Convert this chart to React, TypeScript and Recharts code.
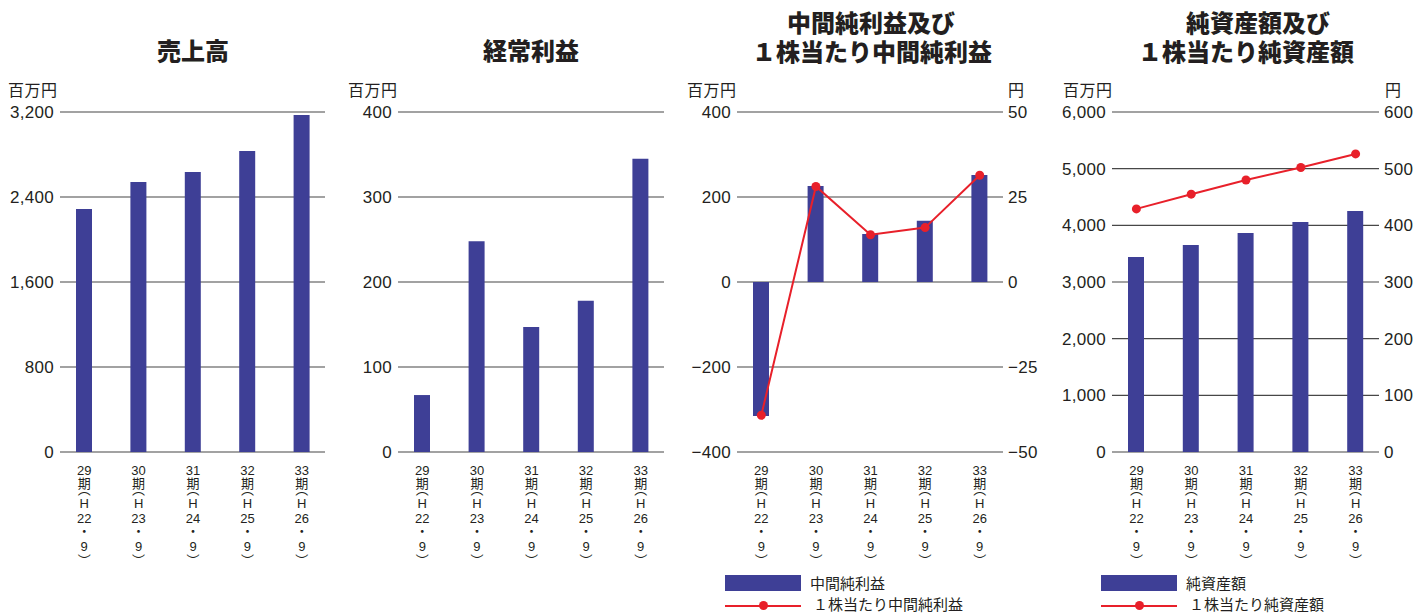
import React from 'react';
import {
  ComposedChart,
  Bar,
  Line,
  XAxis,
  YAxis,
  CartesianGrid,
} from 'recharts';

// 期 and 平成 year for each half-year period (all ending in September)
const periods = ['29', '30', '31', '32', '33'];
const heiseiYears = ['22', '23', '24', '25', '26'];

// 売上高 (百万円)
const sales = [2287, 2541, 2635, 2833, 3172];
// 経常利益 (百万円)
const ordinaryProfit = [67, 248, 147, 178, 345];
// 中間純利益 (百万円) and 1株当たり中間純利益 (円)
const interimNetIncome = [-315, 226, 113, 144, 252];
const interimEps = [-39.2, 28.1, 13.9, 16.0, 31.4];
// 純資産額 (百万円) and 1株当たり純資産額 (円)
const netAssets = [3441, 3653, 3865, 4059, 4253];
const bookValuePerShare = [429, 455, 480, 502, 526];

const salesTicks = [0, 800, 1600, 2400, 3200];
const profitTicks = [0, 100, 200, 300, 400];
const incomeTicks = [-400, -200, 0, 200, 400];
const epsTicks = [-50, -25, 0, 25, 50];
const assetTicks = [0, 1000, 2000, 3000, 4000, 5000, 6000];
const bpsTicks = [0, 100, 200, 300, 400, 500, 600];

const BAR = '#3e3f96';
const RED = '#e8202a';
const INK = '#231f20';
const GRID = '#474747';
const NUM_FONT = '"Liberation Sans", Arial, "Noto Sans CJK JP", sans-serif';
const JP_FONT = '"Noto Sans CJK JP", sans-serif';

const TOP = 112;
const H = 613;
const X_H = H - 452;

const fmt = (v: number) => (v < 0 ? '−' + Math.abs(v).toLocaleString('en-US') : v.toLocaleString('en-US'));

// vertical label: 29 / 期 / ︵ / H / 22 / ・ / 9 / ︶
function XTick(props: any) {
  const { x, y, payload } = props;
  const i = payload.index;
  const rows: [string, number][] = [
    [periods[i], 23],
    ['期', 36],
    ['︵', 42],
    ['H', 56],
    [heiseiYears[i], 71],
    ['・', 84],
    ['9', 99],
    ['︶', 113],
  ];
  return (
    <g>
      {rows.map(([t, dy], k) => (
        <text
          key={k}
          x={x}
          y={y + dy}
          textAnchor="middle"
          fontSize={13}
          fill={INK}
          fontFamily={NUM_FONT}
        >
          {t}
        </text>
      ))}
    </g>
  );
}

const build = (vals: number[], line?: number[]) =>
  periods.map((p, i) => ({ period: p, value: vals[i], line: line ? line[i] : undefined }));

type PanelProps = {
  left: number;
  width: number;
  leftW: number;
  rightW: number;
  values: number[];
  domain: [number, number];
  ticks: number[];
  line?: number[];
  rDomain?: [number, number];
  rTicks?: number[];
};

function Panel(p: PanelProps) {
  const data = build(p.values, p.line);
  return (
    <div style={{ position: 'absolute', left: p.left, top: 0 }}>
      <ComposedChart
        width={p.width}
        height={H}
        data={data}
        margin={{ top: TOP, right: p.line ? 0 : p.rightW, left: 0, bottom: 0 }}
      >
        <CartesianGrid vertical={false} stroke={GRID} strokeWidth={1.1} yAxisId="l" />
        <XAxis
          dataKey="period"
          axisLine={false}
          tickLine={false}
          tickSize={0}
          tickMargin={0}
          height={X_H}
          interval={0}
          padding={{ left: -3, right: -4 }}
          tick={<XTick />}
        />
        <YAxis
          yAxisId="l"
          width={p.leftW}
          domain={p.domain}
          ticks={p.ticks}
          interval={0}
          axisLine={false}
          tickLine={false}
          tickSize={0}
          tickMargin={6}
          tickFormatter={fmt}
          tick={{ fontSize: 17, fill: INK, fontFamily: NUM_FONT, letterSpacing: 0.3 }}
        />
        {p.line && (
          <YAxis
            yAxisId="r"
            orientation="right"
            width={p.rightW}
            domain={p.rDomain}
            ticks={p.rTicks}
            interval={0}
            axisLine={false}
            tickLine={false}
            tickSize={0}
            tickMargin={5}
            tickFormatter={fmt}
            tick={{ fontSize: 17, fill: INK, fontFamily: NUM_FONT, letterSpacing: 0.3, textAnchor: 'start' }}
          />
        )}
        <Bar yAxisId="l" dataKey="value" fill={BAR} barSize={16} isAnimationActive={false} />
        {p.line && (
          <Line
            yAxisId="r"
            type="linear"
            dataKey="line"
            stroke={RED}
            strokeWidth={2}
            dot={{ r: 4.5, fill: RED, stroke: 'none' }}
            activeDot={false}
            isAnimationActive={false}
          />
        )}
      </ComposedChart>
    </div>
  );
}

const txt = (s: string, x: number, y: number, size: number, extra: React.CSSProperties = {}) => (
  <div
    style={{
      position: 'absolute',
      left: x,
      top: y,
      fontSize: size,
      lineHeight: 1,
      whiteSpace: 'nowrap',
      color: INK,
      fontFamily: JP_FONT,
      ...extra,
    }}
  >
    {s}
  </div>
);

const title = (s: string, cx: number, cy: number) => (
  <div
    style={{
      position: 'absolute',
      left: cx - 200,
      width: 400,
      top: cy - 13,
      textAlign: 'center',
      fontSize: 24,
      lineHeight: '26px',
      fontWeight: 900,
      color: INK,
      fontFamily: JP_FONT,
      whiteSpace: 'nowrap',
    }}
  >
    {s}
  </div>
);

function Legend({ x, barLabel, lineLabel }: { x: number; barLabel: string; lineLabel: string }) {
  return (
    <>
      <div style={{ position: 'absolute', left: x, top: 575, width: 76, height: 16, background: BAR }} />
      {txt(barLabel, x + 85, 575, 15)}
      <div style={{ position: 'absolute', left: x, top: 604.5, width: 76, height: 2, background: RED }} />
      <div
        style={{
          position: 'absolute',
          left: x + 34,
          top: 601,
          width: 9,
          height: 9,
          borderRadius: '50%',
          background: RED,
        }}
      />
      {txt(lineLabel, x + 88, 596, 15)}
    </>
  );
}

export default function App() {
  return (
    <div
      style={{
        position: 'absolute',
        left: 0,
        top: 0,
        width: 1418,
        height: H,
        background: '#fff',
        overflow: 'hidden',
      }}
    >
      {title('売上高', 193, 50)}
      {title('経常利益', 531, 50)}
      {title('中間純利益及び', 871, 22)}
      {title('１株当たり中間純利益', 872, 51)}
      {title('純資産額及び', 1258, 22)}
      {title('１株当たり純資産額', 1246, 51)}

      {txt('百万円', 8, 81, 16, { letterSpacing: 0.5 })}
      {txt('百万円', 348, 81, 16, { letterSpacing: 0.5 })}
      {txt('百万円', 687, 81, 16, { letterSpacing: 0.5 })}
      {txt('円', 1008, 81, 16)}
      {txt('百万円', 1063, 81, 16, { letterSpacing: 0.5 })}
      {txt('円', 1385, 81, 16)}

      <Panel left={0} width={340} leftW={60} rightW={15} values={sales} domain={[0, 3200]} ticks={salesTicks} />
      <Panel left={340} width={340} leftW={58} rightW={16} values={ordinaryProfit} domain={[0, 400]} ticks={profitTicks} />
      <Panel
        left={680}
        width={370}
        leftW={57}
        rightW={47}
        values={interimNetIncome}
        domain={[-400, 400]}
        ticks={incomeTicks}
        line={interimEps}
        rDomain={[-50, 50]}
        rTicks={epsTicks}
      />
      <Panel
        left={1050}
        width={368}
        leftW={62}
        rightW={39}
        values={netAssets}
        domain={[0, 6000]}
        ticks={assetTicks}
        line={bookValuePerShare}
        rDomain={[0, 600]}
        rTicks={bpsTicks}
      />

      <Legend x={725} barLabel="中間純利益" lineLabel="１株当たり中間純利益" />
      <Legend x={1101} barLabel="純資産額" lineLabel="１株当たり純資産額" />
    </div>
  );
}
